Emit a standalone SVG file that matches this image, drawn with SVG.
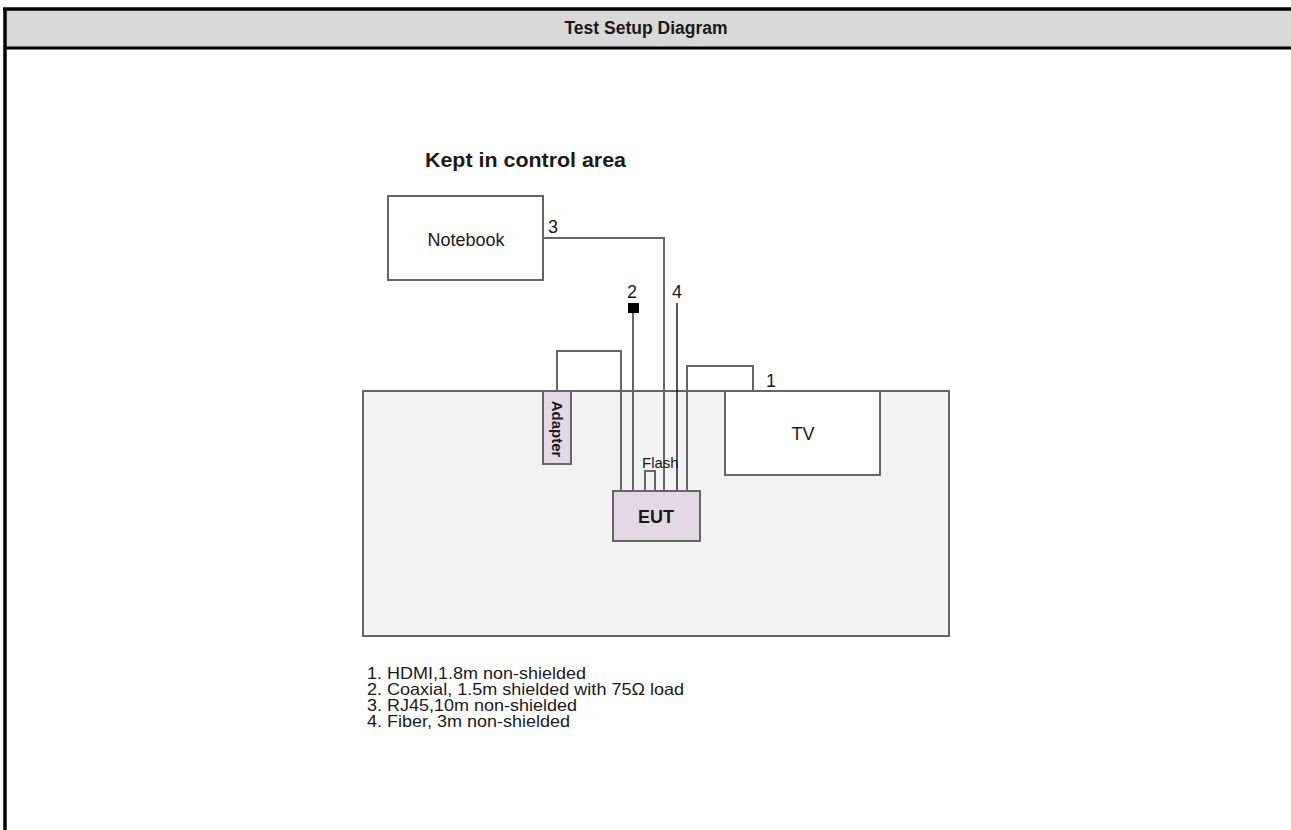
<svg xmlns="http://www.w3.org/2000/svg" width="1291" height="830" viewBox="0 0 1291 830">
<style>
text{font-family:"Liberation Sans",Arial,sans-serif;fill:#1a1a1a}
.b{font-weight:bold}
.box{stroke:#666;stroke-width:2}
.cab{fill:none;stroke:#666;stroke-width:2}
.thin{fill:none;stroke:#000;stroke-width:1.3}
.pur{fill:#e4d8e7}
</style>
<rect x="0" y="0" width="1291" height="830" fill="#fff"/>
<g id="frame">
<rect x="5" y="9" width="1290" height="39" fill="#d9d9d9"/>
<line x1="3" y1="9" x2="1291" y2="9" stroke="#000" stroke-width="3.5"/>
<line x1="5" y1="8" x2="5" y2="830" stroke="#000" stroke-width="3.5"/>
<line x1="4" y1="48" x2="1291" y2="48" stroke="#000" stroke-width="3"/>
<text class="b" x="646" y="34" font-size="17.5" text-anchor="middle">Test Setup Diagram</text>
</g>
<text class="b" x="425" y="167" font-size="21" textLength="201" lengthAdjust="spacingAndGlyphs">Kept in control area</text>
<g id="desk"><rect class="box" x="363" y="391" width="586" height="245" fill="#f2f2f2"/></g>
<g id="connectors">
<polyline class="cab" points="543,238 664,238 664,491"/>
<line class="cab" x1="633" y1="310" x2="633" y2="491"/>
<rect x="628" y="303" width="11" height="10" fill="#000"/>
<line class="thin" x1="677" y1="303" x2="677" y2="491"/>
<polyline class="cab" points="557,391 557,351 621,351 621,491"/>
<polyline class="cab" points="645,491 645,471 655,471 655,491"/>
<polyline class="cab" points="687,491 687,366 753,366 753,391"/>
</g>
<g id="notebook">
<rect class="box" x="388" y="196" width="155" height="84" fill="#fff"/>
<text x="466" y="246" font-size="18" text-anchor="middle">Notebook</text>
</g>
<g id="tv">
<rect class="box" x="725" y="391" width="155" height="84" fill="#fff"/>
<text x="803" y="440" font-size="18" text-anchor="middle">TV</text>
</g>
<g id="adapter">
<rect class="box pur" x="543" y="391" width="28" height="73"/>
<text class="b" transform="translate(552,429) rotate(90)" font-size="15" text-anchor="middle">Adapter</text>
</g>
<g id="eut">
<rect class="box pur" x="613" y="491" width="87" height="50"/>
<text class="b" x="656" y="523" font-size="18" text-anchor="middle">EUT</text>
</g>
<g id="labels">
<text x="548" y="233" font-size="18">3</text>
<text x="627" y="298" font-size="18">2</text>
<text x="672" y="298" font-size="18">4</text>
<text x="766" y="387" font-size="18">1</text>
<text x="642" y="468" font-size="15" fill="#333">Flash</text>
</g>
<g id="legend" font-size="16.5">
<text x="367" y="679" textLength="219" lengthAdjust="spacingAndGlyphs">1. HDMI,1.8m non-shielded</text>
<text x="367" y="695" textLength="317" lengthAdjust="spacingAndGlyphs">2. Coaxial, 1.5m shielded with 75Ω load</text>
<text x="367" y="711" textLength="210" lengthAdjust="spacingAndGlyphs">3. RJ45,10m non-shielded</text>
<text x="367" y="727" textLength="203" lengthAdjust="spacingAndGlyphs">4. Fiber, 3m non-shielded</text>
</g>
</svg>
